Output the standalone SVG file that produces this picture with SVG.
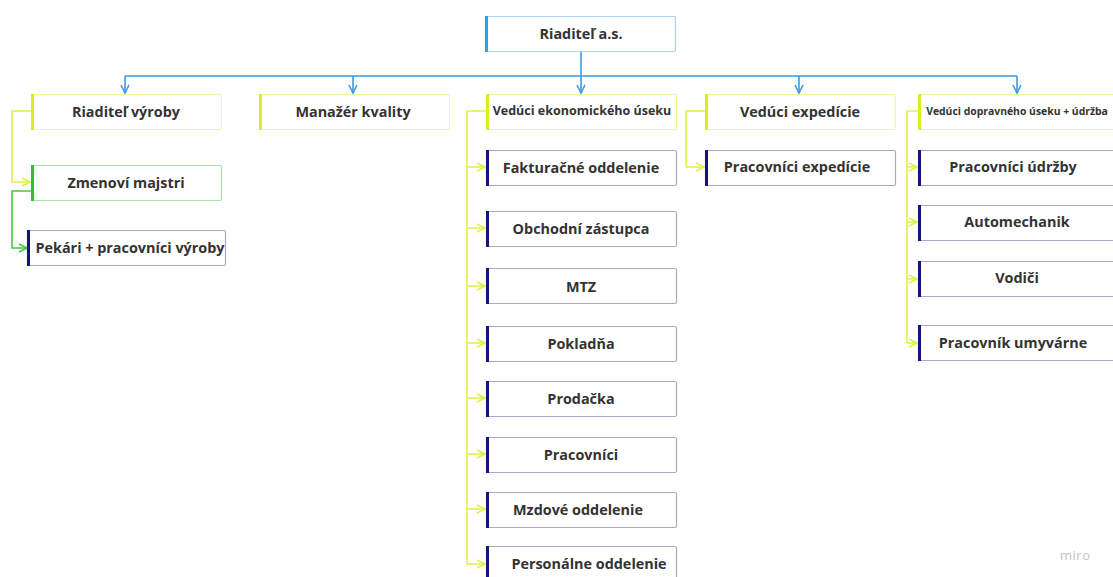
<svg xmlns="http://www.w3.org/2000/svg" width="1113" height="577" viewBox="0 0 1113 577">
  <defs>
    <style>
      .box { fill: #ffffff; stroke-width: 1.2; }
      .b-blue { stroke: #a9d3f0; }
      .b-yel { stroke: #eef7a6; }
      .b-grn { stroke: #a6e3a6; }
      .b-nav { stroke: #a8a8c4; }
      .acc-blue { fill: #3b9be0; }
      .acc-yel { fill: #d7ee1c; }
      .acc-grn { fill: #2fc42f; }
      .acc-nav { fill: #14147a; }
      .lbl { font-family: "Open Sans", "Noto Sans", "Liberation Sans", sans-serif; font-weight: 700; font-size: 14.4px; fill: #333333; text-anchor: middle; dominant-baseline: central; }
      .small { font-size: 10.4px; }
      .c-blue { stroke: #3b9be0; stroke-width: 1.6; fill: none; }
      .c-yel { stroke: #dff04a; stroke-width: 1.6; fill: none; }
      .c-grn { stroke: #45c845; stroke-width: 1.6; fill: none; }
      .wm { font-family: "Open Sans", "Liberation Sans", sans-serif; font-size: 13px; fill: #c4c4c4; letter-spacing: 0.5px; }
    </style>
    <marker id="arBlue" viewBox="0 0 10 10" refX="9" refY="5" markerWidth="10" markerHeight="10" markerUnits="userSpaceOnUse" orient="auto">
      <path d="M1 1 L9 5 L1 9" fill="none" stroke="#3b9be0" stroke-width="1.6"/>
    </marker>
    <marker id="arYel" viewBox="0 0 10 10" refX="9" refY="5" markerWidth="10" markerHeight="10" markerUnits="userSpaceOnUse" orient="auto">
      <path d="M1 1 L9 5 L1 9" fill="none" stroke="#dff04a" stroke-width="1.6"/>
    </marker>
    <marker id="arGrn" viewBox="0 0 10 10" refX="9" refY="5" markerWidth="10" markerHeight="10" markerUnits="userSpaceOnUse" orient="auto">
      <path d="M1 1 L9 5 L1 9" fill="none" stroke="#45c845" stroke-width="1.6"/>
    </marker>
  </defs>

  <rect width="1113" height="577" fill="#ffffff"/>

  <!-- connectors -->
  <g id="connectors">
    <path class="c-blue" d="M581 51 V76"/>
    <path class="c-blue" d="M125 76 H1017"/>
    <path class="c-blue" d="M125 76 V93" marker-end="url(#arBlue)"/>
    <path class="c-blue" d="M353 76 V93" marker-end="url(#arBlue)"/>
    <path class="c-blue" d="M581 76 V93" marker-end="url(#arBlue)"/>
    <path class="c-blue" d="M799 76 V93" marker-end="url(#arBlue)"/>
    <path class="c-blue" d="M1017 76 V93" marker-end="url(#arBlue)"/>

    <!-- production -->
    <path class="c-yel" d="M31 111 H12 V182 H30" marker-end="url(#arYel)"/>
    <path class="c-grn" d="M31 191 H12 V248 H27" marker-end="url(#arGrn)"/>

    <!-- economic -->
    <path class="c-yel" d="M486 111 H467 V564"/>
    <path class="c-yel" d="M467 167 H485" marker-end="url(#arYel)"/>
    <path class="c-yel" d="M467 228 H485" marker-end="url(#arYel)"/>
    <path class="c-yel" d="M467 286 H485" marker-end="url(#arYel)"/>
    <path class="c-yel" d="M467 343 H485" marker-end="url(#arYel)"/>
    <path class="c-yel" d="M467 398 H485" marker-end="url(#arYel)"/>
    <path class="c-yel" d="M467 454 H485" marker-end="url(#arYel)"/>
    <path class="c-yel" d="M467 509 H485" marker-end="url(#arYel)"/>
    <path class="c-yel" d="M467 564 H485" marker-end="url(#arYel)"/>

    <!-- expedition -->
    <path class="c-yel" d="M705 111 H686 V167 H704" marker-end="url(#arYel)"/>

    <!-- transport -->
    <path class="c-yel" d="M918 111 H907 V343"/>
    <path class="c-yel" d="M907 167 H917" marker-end="url(#arYel)"/>
    <path class="c-yel" d="M907 222 H917" marker-end="url(#arYel)"/>
    <path class="c-yel" d="M907 279 H917" marker-end="url(#arYel)"/>
    <path class="c-yel" d="M907 343 H917" marker-end="url(#arYel)"/>
  </g>

  <!-- top -->
  <g id="n-riaditel-as">
    <rect class="box b-blue" x="485.5" y="16.5" width="190" height="35" rx="1.5"/>
    <rect class="acc-blue" x="485" y="16" width="3" height="36"/>
    <text class="lbl" x="581" y="33">Riaditeľ a.s.</text>
  </g>

  <!-- level 2 -->
  <g id="n-riaditel-vyroby">
    <rect class="box b-yel" x="31.5" y="94.5" width="190" height="35" rx="1.5"/>
    <rect class="acc-yel" x="31" y="94" width="3" height="36"/>
    <text class="lbl" x="126" y="111">Riaditeľ výroby</text>
  </g>
  <g id="n-manazer-kvality">
    <rect class="box b-yel" x="259.5" y="94.5" width="190" height="35" rx="1.5"/>
    <rect class="acc-yel" x="259" y="94" width="3" height="36"/>
    <text class="lbl" x="353" y="111">Manažér kvality</text>
  </g>
  <g id="n-veduci-ekonomickeho">
    <rect class="box b-yel" x="486.5" y="94.5" width="190" height="35" rx="1.5"/>
    <rect class="acc-yel" x="486" y="94" width="3" height="36"/>
    <text class="lbl" x="582" y="110" style="font-size:12.5px">Vedúci ekonomického úseku</text>
  </g>
  <g id="n-veduci-expedicie">
    <rect class="box b-yel" x="705.5" y="94.5" width="190" height="35" rx="1.5"/>
    <rect class="acc-yel" x="705" y="94" width="3" height="36"/>
    <text class="lbl" x="800" y="111">Vedúci expedície</text>
  </g>
  <g id="n-veduci-dopravneho">
    <rect class="box b-yel" x="918.5" y="94.5" width="200" height="35" rx="1.5"/>
    <rect class="acc-yel" x="918" y="94" width="3" height="36"/>
    <text class="lbl small" x="1017" y="111">Vedúci dopravného úseku + údržba</text>
  </g>

  <!-- production -->
  <g id="n-zmenovi-majstri">
    <rect class="box b-grn" x="31.5" y="165.5" width="190" height="35" rx="1.5"/>
    <rect class="acc-grn" x="31" y="165" width="3" height="36"/>
    <text class="lbl" x="126" y="182">Zmenoví majstri</text>
  </g>
  <g id="n-pekari">
    <rect class="box b-nav" x="27.5" y="230.5" width="198" height="35" rx="1.5"/>
    <rect class="acc-nav" x="27" y="230" width="3" height="36"/>
    <text class="lbl" x="130" y="247">Pekári + pracovníci výroby</text>
  </g>

  <!-- economic -->
  <g id="n-fakturacne">
    <rect class="box b-nav" x="486.5" y="150.5" width="190" height="35" rx="1.5"/>
    <rect class="acc-nav" x="486" y="150" width="3" height="36"/>
    <text class="lbl" x="581" y="167">Fakturačné oddelenie</text>
  </g>
  <g id="n-obchodni">
    <rect class="box b-nav" x="486.5" y="211.5" width="190" height="35" rx="1.5"/>
    <rect class="acc-nav" x="486" y="211" width="3" height="36"/>
    <text class="lbl" x="581" y="228">Obchodní zástupca</text>
  </g>
  <g id="n-mtz">
    <rect class="box b-nav" x="486.5" y="268.5" width="190" height="35" rx="1.5"/>
    <rect class="acc-nav" x="486" y="268" width="3" height="36"/>
    <text class="lbl" x="581" y="286">MTZ</text>
  </g>
  <g id="n-pokladna">
    <rect class="box b-nav" x="486.5" y="326.5" width="190" height="35" rx="1.5"/>
    <rect class="acc-nav" x="486" y="326" width="3" height="36"/>
    <text class="lbl" x="581" y="343">Pokladňa</text>
  </g>
  <g id="n-prodacka">
    <rect class="box b-nav" x="486.5" y="381.5" width="190" height="35" rx="1.5"/>
    <rect class="acc-nav" x="486" y="381" width="3" height="36"/>
    <text class="lbl" x="581" y="398">Prodačka</text>
  </g>
  <g id="n-pracovnici">
    <rect class="box b-nav" x="486.5" y="437.5" width="190" height="35" rx="1.5"/>
    <rect class="acc-nav" x="486" y="437" width="3" height="36"/>
    <text class="lbl" x="581" y="454">Pracovníci</text>
  </g>
  <g id="n-mzdove">
    <rect class="box b-nav" x="486.5" y="492.5" width="190" height="35" rx="1.5"/>
    <rect class="acc-nav" x="486" y="492" width="3" height="36"/>
    <text class="lbl" x="578" y="509">Mzdové oddelenie</text>
  </g>
  <g id="n-personalne">
    <rect class="box b-nav" x="486.5" y="546.5" width="190" height="35" rx="1.5"/>
    <rect class="acc-nav" x="486" y="546" width="3" height="36"/>
    <text class="lbl" x="589" y="563">Personálne oddelenie</text>
  </g>

  <!-- expedition -->
  <g id="n-pracovnici-expedicie">
    <rect class="box b-nav" x="705.5" y="150.5" width="190" height="35" rx="1.5"/>
    <rect class="acc-nav" x="705" y="150" width="3" height="36"/>
    <text class="lbl" x="797" y="166">Pracovníci expedície</text>
  </g>

  <!-- transport -->
  <g id="n-pracovnici-udrzby">
    <rect class="box b-nav" x="918.5" y="150.5" width="200" height="35" rx="1.5"/>
    <rect class="acc-nav" x="918" y="150" width="3" height="36"/>
    <text class="lbl" x="1013" y="166">Pracovníci údržby</text>
  </g>
  <g id="n-automechanik">
    <rect class="box b-nav" x="918.5" y="205.5" width="200" height="35" rx="1.5"/>
    <rect class="acc-nav" x="918" y="205" width="3" height="36"/>
    <text class="lbl" x="1017" y="221">Automechanik</text>
  </g>
  <g id="n-vodici">
    <rect class="box b-nav" x="918.5" y="261.5" width="200" height="35" rx="1.5"/>
    <rect class="acc-nav" x="918" y="261" width="3" height="36"/>
    <text class="lbl" x="1017" y="277">Vodiči</text>
  </g>
  <g id="n-umyvarne">
    <rect class="box b-nav" x="918.5" y="325.5" width="200" height="35" rx="1.5"/>
    <rect class="acc-nav" x="918" y="325" width="3" height="36"/>
    <text class="lbl" x="1013" y="342">Pracovník umyvárne</text>
  </g>

  <text class="wm" x="1060" y="560">miro</text>
</svg>
